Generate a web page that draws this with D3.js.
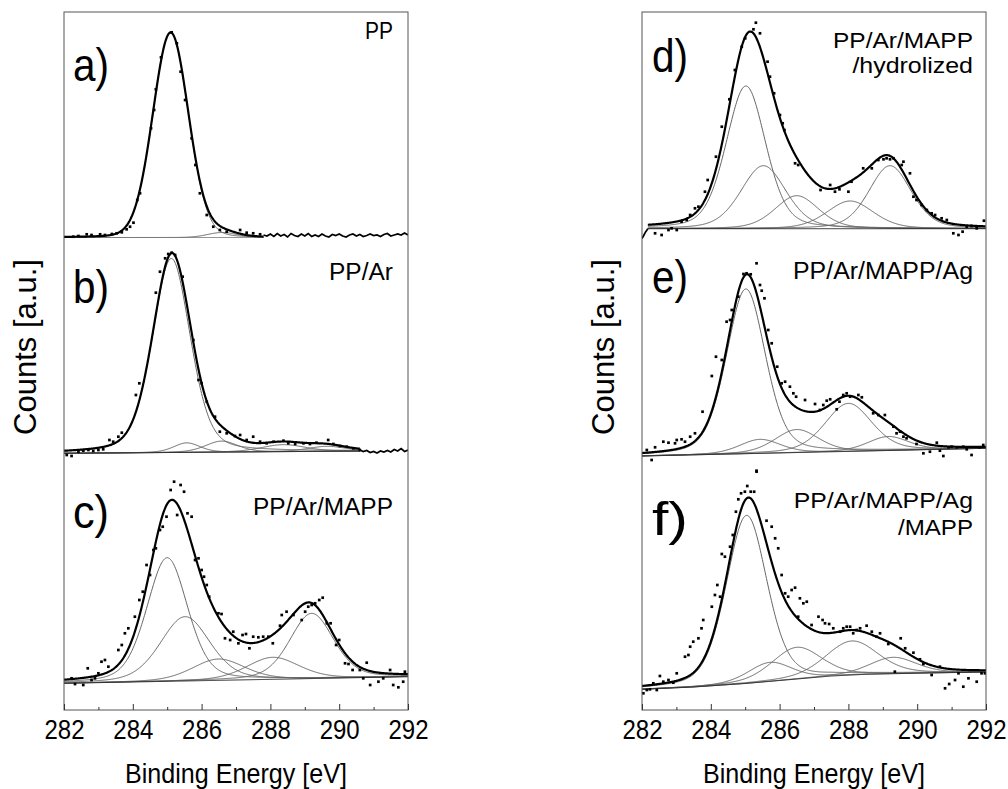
<!DOCTYPE html>
<html><head><meta charset="utf-8">
<script src="https://cdn.jsdelivr.net/npm/d3@7"></script>
<style>body{margin:0;background:#fff} svg{display:block}</style>
</head><body>
<svg id="c" width="1008" height="789"></svg>
<script>
// ---------------- DATA ----------------
const xTicks = [282, 284, 286, 288, 290, 292];
const xMinorTicks = [283, 285, 287, 289, 291];
const xTitle = "Binding Energy [eV]";
const yTitle = "Counts [a.u.]";
const panelLetters = ["a)", "b)", "c)", "d)", "e)", "f)"];
const sampleNames = [["PP"], ["PP/Ar"], ["PP/Ar/MAPP"], ["PP/Ar/MAPP", "/hydrolized"], ["PP/Ar/MAPP/Ag"], ["PP/Ar/MAPP/Ag", "/MAPP"]];

// baselines [eV, counts]
const baseA = [[282, 472.5], [292, 472.5]];
const baseB = [[282, 256.7], [292, 259.3]];
const baseC = [[282, 26.7], [292, 33.3]];
const baseD = [[282, 481.3], [292, 481.3]];
const baseE = [[282, 254], [292, 261.7]];
const baseF = [[282, 20.7], [283.5, 23], [285, 26.5], [286.5, 31], [287.5, 34], [288.5, 35.7], [290, 36.8], [292, 38]];

// fitted components [centre eV, height, FWHM eV]
const compA = [[285.1, 205, 1.22], [286.6, 5, 1.0]];
const compB = [[285.12, 194, 1.3], [285.57, 9.5, 0.9], [286.58, 11, 1.1], [288.38, 7, 1.5], [289.64, 5, 1.3]];
const compC = [[285.0, 123.6, 1.4], [285.52, 64.3, 1.7], [286.49, 21.3, 1.8], [288.07, 22, 1.8], [289.2, 65.2, 1.5]];
const compD = [[285.02, 142.7, 1.36], [285.53, 63, 1.55], [286.5, 33, 1.5], [288.05, 27.7, 1.6], [289.21, 63, 1.45]];
const compE = [[285.02, 164.7, 1.34], [285.43, 14, 1.4], [286.5, 23, 1.5], [288.0, 48, 1.6], [289.16, 14, 1.4]];
const compF = [[285.04, 168, 1.4], [285.72, 19, 1.5], [286.5, 31.7, 1.7], [288.1, 34, 1.8], [289.3, 16.4, 1.6]];
// Lorentzian fraction of the Gaussian-Lorentzian line shape
const glMix = [0.08, 0.3, 0.3, 0.3, 0.3, 0.3];
// energy range of the fit envelope
const fitRange = [[282, 287.8], [282, 290.6], [282, 292], [282.17, 292], [282, 292], [282, 292]];

// measured points [eV, counts]
const dotsA = [[282.27,473.3],[282.42,474],[282.66,475.7],[282.80,475],[283.05,475.7],[283.19,475],[283.39,476],[283.53,476.7],[283.68,477.7],[283.82,480.7],[283.92,483.3],[284.02,487.3],[284.13,510],[284.21,516.7],[284.53,581.7],[284.62,600],[284.67,620.7],[284.82,652.7],[285.13,677.7],[285.28,666.7],[285.39,638.3],[285.52,610],[285.71,571.7],[285.82,545],[285.95,516.7],[286.15,495],[286.34,483.3],[286.53,480],[286.73,478.3],[287.12,480],[287.31,477.3],[287.50,476.7],[287.70,475.7]];
const dotsB = [[282.08,255],[282.22,254],[282.42,258.3],[282.56,259.3],[282.71,260],[282.85,259],[283.00,260],[283.14,260.7],[283.32,270],[283.43,268.3],[283.58,273.3],[283.68,277.3],[284.09,315],[284.19,326.7],[284.67,417.3],[284.79,438.3],[284.94,451.7],[285.03,456],[285.13,457.3],[285.23,455],[285.45,433.3],[285.76,370],[285.91,330],[286.00,326.7],[286.15,308.3],[286.39,293.3],[286.53,278.3],[286.73,276.7],[286.97,274],[287.12,275],[287.31,270],[287.50,273.3],[287.70,268.3],[287.89,266.7],[288.09,268.3],[288.38,269.3],[288.52,266.7],[288.72,266],[288.96,266.7],[289.15,266],[289.34,267.3],[289.68,270],[289.83,266],[290.02,264],[290.22,263.3],[290.41,261.7],[290.60,260]];
const dotsC = [[282.22,31.7],[282.32,26],[282.56,25],[282.69,41.7],[282.80,30],[282.90,31.7],[283.00,36.7],[283.09,48.3],[283.19,50],[283.29,43.3],[283.58,60],[283.68,65],[283.77,76.7],[283.87,81.7],[284.06,93.3],[284.19,110],[284.29,118.3],[284.40,145],[284.50,135],[284.60,160],[284.67,161.7],[284.79,180],[284.87,183.3],[284.98,193.3],[285.10,220],[285.20,228.3],[285.39,225],[285.49,218.3],[285.29,195],[285.59,196.7],[285.71,193.3],[285.81,150],[285.91,151.7],[286.00,140],[286.07,133.3],[286.15,125],[286.22,113.3],[286.49,96.7],[286.58,96],[286.68,71.7],[286.83,70],[286.92,78.3],[287.07,66.7],[287.19,75],[287.29,76],[287.39,61.7],[287.50,73.3],[287.65,72.7],[287.79,73.3],[287.94,73.3],[288.07,66.7],[288.28,84.3],[288.33,95],[288.47,98.3],[288.67,95],[288.91,90],[289.01,98.3],[289.10,103.3],[289.20,105],[289.30,106.7],[289.42,110],[289.52,112.3],[289.64,86.7],[289.75,86.7],[289.91,65],[290.00,70],[290.17,46.7],[290.27,46],[290.39,40],[290.60,40],[290.80,47.3],[290.70,31.7],[290.90,25],[291.14,28.3],[291.28,31.7],[291.48,40],[291.57,25],[291.72,22.7],[291.86,28.3],[291.91,38.3]];
const dotsD = [[282.38,476.7],[282.57,475],[282.77,480],[282.86,481.7],[283.01,480],[283.15,488.3],[283.30,490],[283.40,495],[283.54,501.7],[283.64,503.3],[283.83,518.3],[283.91,530],[284.15,553.3],[284.32,583.3],[284.54,610.7],[284.70,640],[284.90,663.3],[285.00,671.7],[285.24,680.7],[285.31,687.3],[285.43,676.7],[285.65,648.3],[285.72,633.3],[285.84,616.7],[286.01,595],[286.09,586.7],[286.14,580],[286.45,546.7],[286.54,545],[287.19,520],[287.47,525],[287.61,518.3],[287.74,520.7],[288.00,518.3],[288.09,528.3],[288.43,541.7],[288.68,541.7],[288.87,550],[289.02,550.7],[289.11,551.7],[289.21,550.7],[289.31,551.7],[289.55,545],[289.60,548.3],[289.79,536.7],[289.89,513.3],[289.98,510],[290.13,505],[290.28,500],[290.42,496.7],[290.52,495],[290.71,491.7],[290.86,490],[291.05,476.7],[291.20,475],[291.32,478.3],[291.44,483.3],[291.58,484],[291.73,481.7],[291.94,489.3]];
const dotsE = [[282.14,260],[282.28,250],[282.38,262.7],[282.62,268.3],[282.77,267.3],[282.96,266.7],[283.01,270],[283.15,270.7],[283.25,268.3],[283.40,273.3],[283.54,276.7],[283.76,298.3],[284.03,334],[284.15,353.3],[284.32,350],[284.46,388.3],[284.56,390],[284.61,400],[284.80,413.3],[284.95,436],[285.04,436.7],[285.16,435.7],[285.33,446.7],[285.43,425],[285.48,419.3],[285.56,411.7],[285.67,380],[285.77,366.7],[285.93,343.3],[286.06,326.7],[286.16,328.3],[286.30,323.3],[286.40,316.7],[286.48,313.3],[286.74,310],[287.03,306],[287.17,300],[287.27,305],[287.37,309.3],[287.47,310.7],[287.66,300.7],[287.74,308.3],[287.85,315],[287.95,316.7],[288.05,313.3],[288.29,315],[288.39,312.7],[288.72,296.7],[288.87,295],[289.06,295],[289.31,283.3],[289.40,276.7],[289.50,278.3],[289.60,273.3],[289.69,271.7],[289.98,266],[290.18,256.7],[290.37,258.3],[290.57,267.3],[290.66,259.3],[290.76,254],[290.91,262.7],[291.00,263.3],[291.15,262.7],[291.34,263.3],[291.44,260.7],[291.58,255],[291.81,262.7],[291.92,265],[285.33,239.3]];
const dotsF = [[282.04,16.7],[282.14,20],[282.23,20.7],[282.33,26.7],[282.43,20],[282.52,34],[282.62,28.3],[282.77,30],[282.91,27.3],[283.01,36.7],[283.25,53.3],[283.35,55],[283.40,63.3],[283.49,68.3],[283.64,71.7],[283.73,81.7],[283.78,90],[284.03,103.3],[284.12,115],[284.19,125],[284.27,113.3],[284.32,156],[284.41,153.3],[284.56,163.3],[284.64,175],[284.73,198.3],[284.80,210.7],[284.88,216.7],[284.99,218.3],[285.06,224],[285.16,218.3],[285.26,218.3],[285.33,238.3],[285.62,189.3],[285.77,183.3],[285.87,171.7],[285.96,161.7],[286.06,135],[286.16,116.7],[286.25,113.3],[286.35,120],[286.45,122.3],[286.54,93.3],[286.59,111.7],[286.69,106.7],[286.79,108.3],[286.93,85],[287.13,93.3],[287.25,90],[287.32,86.7],[287.44,86],[287.56,81.7],[287.76,78.3],[287.85,81.7],[287.95,83.3],[288.05,83.3],[288.14,76.7],[288.24,80],[288.34,81.7],[288.53,84.3],[288.68,78.3],[288.82,73.3],[288.92,76.7],[289.16,66],[289.35,38.3],[289.52,71.7],[289.65,61.7],[289.89,57.3],[290.08,50.7],[290.18,46],[290.42,35],[290.66,43.3],[290.81,21.7],[290.93,26],[291.10,30],[291.20,36.7],[291.34,23.3],[291.49,31.7],[291.73,28.3],[291.87,36.7],[291.97,36.7]];

// raw spectrum drawn as a line outside the fitted range
const rawA = [[287.8,475],[287.9,474],[288.0,476],[288.1,473.5],[288.2,476.5],[288.3,474],[288.4,475.5],[288.5,473],[288.6,476.5],[288.7,474.5],[288.8,473.5],[288.9,476],[289.0,474],[289.1,476.5],[289.2,473.5],[289.3,475],[289.4,473.5],[289.5,476],[289.6,474],[289.7,473],[289.8,475.5],[289.9,474.5],[290.0,476],[290.1,474],[290.2,473],[290.3,475],[290.4,476],[290.5,474],[290.6,475.5],[290.7,473.5],[290.8,474.5],[290.9,476],[291.0,474.5],[291.1,475],[291.2,473.5],[291.3,475.5],[291.4,476.5],[291.5,474],[291.6,475],[291.7,476],[291.8,475],[291.9,477],[292.0,475]];
const rawB = [[290.6,260],[290.7,258.5],[290.8,259.5],[290.9,257.5],[291.0,258.5],[291.1,257],[291.2,259],[291.3,258],[291.4,259.5],[291.5,258],[291.6,260.5],[291.7,259],[291.8,261.5],[291.9,258.5],[292.0,260]];
const rawD = [[282.0,471.5],[282.05,474.5],[282.1,477.8],[282.17,481.3]];

// ---------------- LAYOUT ----------------
const FONT = "'Liberation Sans', Arial, Helvetica, sans-serif";
const cols = [{x0: 64, x1: 408, yT: 36}, {x0: 642, x1: 986, yT: 614}];
const yTop = 12, yBot = 710;
const letterLayout = [[73, 81], [73, 303], [73, 528], [652, 72], [652, 293], [652, 535]];
// [right x, baseline y, width, font size]
const nameLayout = [
  [[393, 39.3, 28, 23]],
  [[393, 280, 64, 23]],
  [[393, 515, 140, 23]],
  [[973, 48.3, 140, 21.5], [973, 73, 120.6, 21.5]],
  [[973, 279.3, 180, 23]],
  [[973, 508.3, 179.3, 22], [973, 534.5, 75, 22]]
];

const panels = [
  {col: 0, base: baseA, comps: compA, dots: dotsA, raws: [rawA]},
  {col: 0, base: baseB, comps: compB, dots: dotsB, raws: [rawB]},
  {col: 0, base: baseC, comps: compC, dots: dotsC, raws: []},
  {col: 1, base: baseD, comps: compD, dots: dotsD, raws: [rawD]},
  {col: 1, base: baseE, comps: compE, dots: dotsE, raws: []},
  {col: 1, base: baseF, comps: compF, dots: dotsF, raws: []}
];

const svg = d3.select("#c");
cols.forEach((c, i) => {
  c.x = d3.scaleLinear().domain([282, 292]).range([c.x0, c.x1]);
  c.y = d3.scaleLinear().domain([0, 698]).range([yBot, yTop]);
  svg.append("clipPath").attr("id", "clip" + i)
    .append("rect").attr("x", c.x0).attr("y", yTop).attr("width", c.x1 - c.x0).attr("height", yBot - yTop);
});

function baseAt(base, e) {
  for (let i = 0; i < base.length - 1; i++) {
    const [e0, v0] = base[i], [e1, v1] = base[i + 1];
    if (e >= e0 && e <= e1) return v0 + (v1 - v0) * (e - e0) / (e1 - e0);
  }
  return e < base[0][0] ? base[0][1] : base[base.length - 1][1];
}
function gl(e, c, h, w, m) {
  const d = (e - c) / w;
  return h * ((1 - m) * Math.exp(-4 * Math.LN2 * d * d) + m / (1 + 4 * d * d));
}

panels.forEach((p, k) => {
  const c = cols[p.col];
  const g = svg.append("g").attr("clip-path", `url(#clip${p.col})`);
  const [lo, hi] = fitRange[k];
  const grid = d3.range(lo, hi + 1e-9, 0.02);
  const m = glMix[k];
  const line = d3.line().x(d => c.x(d[0])).y(d => c.y(d[1]));

  p.comps.forEach(cp => {
    g.append("path").attr("d", line(grid.map(e => [e, baseAt(p.base, e) + gl(e, cp[0], cp[1], cp[2], m)])))
      .attr("fill", "none").attr("stroke", "#666").attr("stroke-width", 1);
  });
  g.append("path").attr("d", line(grid.map(e => [e, baseAt(p.base, e)])))
    .attr("fill", "none").attr("stroke", k === 0 ? "#777" : "#222").attr("stroke-width", 1);
  p.raws.forEach(r => {
    g.append("path").attr("d", line(r)).attr("fill", "none").attr("stroke", "#000").attr("stroke-width", 1.7);
  });
  const env = grid.map(e => [e, baseAt(p.base, e) + d3.sum(p.comps, cp => gl(e, cp[0], cp[1], cp[2], m))]);
  g.append("path").attr("d", line(env)).attr("fill", "none").attr("stroke", "#000").attr("stroke-width", 2.2);
  g.selectAll("rect.dot").data(p.dots).join("rect").attr("class", "dot")
    .attr("x", d => c.x(d[0]) - 1.35).attr("y", d => c.y(d[1]) - 1.35)
    .attr("width", 2.7).attr("height", 2.7).attr("fill", "#000");

  svg.append("text").attr("x", letterLayout[k][0]).attr("y", letterLayout[k][1])
    .attr("font-family", FONT).attr("font-size", 46).attr("textLength", 36).attr("lengthAdjust", "spacingAndGlyphs")
    .text(panelLetters[k]);
  sampleNames[k].forEach((s, j) => {
    const L = nameLayout[k][j];
    svg.append("text").attr("x", L[0]).attr("y", L[1]).attr("text-anchor", "end")
      .attr("font-family", FONT).attr("font-size", L[3]).attr("textLength", L[2]).attr("lengthAdjust", "spacingAndGlyphs")
      .text(s);
  });
});

cols.forEach(c => {
  svg.append("rect").attr("x", c.x0).attr("y", yTop).attr("width", c.x1 - c.x0).attr("height", yBot - yTop)
    .attr("fill", "none").attr("stroke", "#555").attr("stroke-width", 1);
  const ga = svg.append("g").attr("transform", `translate(0,${yBot})`)
    .call(d3.axisBottom(c.x).tickValues(xTicks).tickSize(-6).tickSizeOuter(0).tickPadding(9).tickFormat(d3.format("d")));
  ga.select(".domain").remove();
  ga.selectAll("line").attr("stroke", "#333");
  ga.selectAll("text").attr("font-family", FONT).attr("font-size", 28).attr("fill", "#000")
    .attr("textLength", 40).attr("lengthAdjust", "spacingAndGlyphs");
  const gm = svg.append("g").attr("transform", `translate(0,${yBot})`)
    .call(d3.axisBottom(c.x).tickValues(xMinorTicks).tickSize(-3).tickSizeOuter(0).tickFormat(""));
  gm.select(".domain").remove();
  gm.selectAll("line").attr("stroke", "#333");
  svg.append("text").attr("x", (c.x0 + c.x1) / 2).attr("y", 783).attr("text-anchor", "middle")
    .attr("font-family", FONT).attr("font-size", 28).attr("textLength", 222).attr("lengthAdjust", "spacingAndGlyphs")
    .text(xTitle);
  svg.append("text").attr("transform", `translate(${c.yT},347) rotate(-90)`).attr("text-anchor", "middle")
    .attr("font-family", FONT).attr("font-size", 31).text(yTitle);
});
</script>
</body></html>
